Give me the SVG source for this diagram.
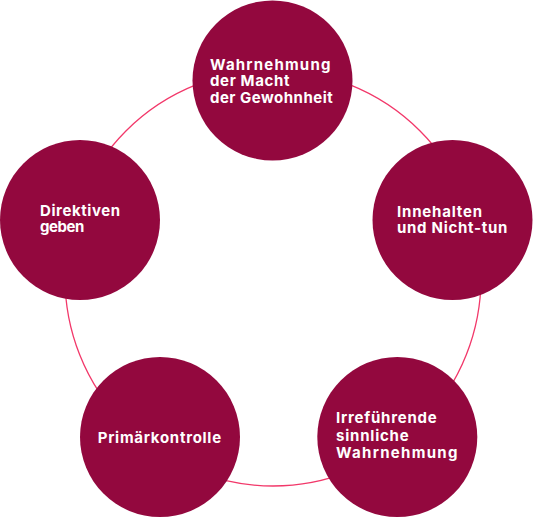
<svg xmlns="http://www.w3.org/2000/svg" width="533" height="517" viewBox="0 0 533 517">
  <style>
    .node { fill: #93083e; }
    .lbl { fill: #ffffff; font-family: "Inter", "Liberation Sans", sans-serif; font-weight: 700; font-size: 15px; letter-spacing: 0.6px; }
    .ring { fill: none; stroke: #f2386a; stroke-width: 1.3; }
  </style>
  <rect width="533" height="517" fill="#ffffff"/>
  <g id="connectors">
    <circle class="ring" cx="273" cy="278" r="208"/>
  </g>
  <g id="node-wahrnehmung-macht">
    <circle class="node" cx="272.5" cy="80.5" r="80"/>
    <text class="lbl" x="210" y="70" textLength="121" lengthAdjust="spacing">Wahrnehmung</text>
    <text class="lbl" x="210" y="86.3" textLength="80" lengthAdjust="spacing">der Macht</text>
    <text class="lbl" x="210" y="102.6" textLength="123.3" lengthAdjust="spacing">der Gewohnheit</text>
  </g>
  <g id="node-innehalten">
    <circle class="node" cx="452.5" cy="220" r="80"/>
    <text class="lbl" x="397" y="217" textLength="85.6" lengthAdjust="spacing">Innehalten</text>
    <text class="lbl" x="397" y="233" textLength="111" lengthAdjust="spacing">und Nicht-tun</text>
  </g>
  <g id="node-irrefuehrende">
    <circle class="node" cx="397.3" cy="437" r="80"/>
    <text class="lbl" x="336" y="423.3" textLength="101.3" lengthAdjust="spacing">Irreführende</text>
    <text class="lbl" x="336" y="440.8" textLength="73.3" lengthAdjust="spacing">sinnliche</text>
    <text class="lbl" x="336" y="458.3" textLength="122" lengthAdjust="spacing">Wahrnehmung</text>
  </g>
  <g id="node-primaerkontrolle">
    <circle class="node" cx="160" cy="437" r="80"/>
    <text class="lbl" x="97.7" y="442.7" textLength="124" lengthAdjust="spacing">Primärkontrolle</text>
  </g>
  <g id="node-direktiven">
    <circle class="node" cx="80" cy="220" r="80"/>
    <text class="lbl" x="40" y="216.3" textLength="80.7" lengthAdjust="spacing">Direktiven</text>
    <text class="lbl" x="40" y="231.8" textLength="45" lengthAdjust="spacing">geben</text>
  </g>
</svg>
